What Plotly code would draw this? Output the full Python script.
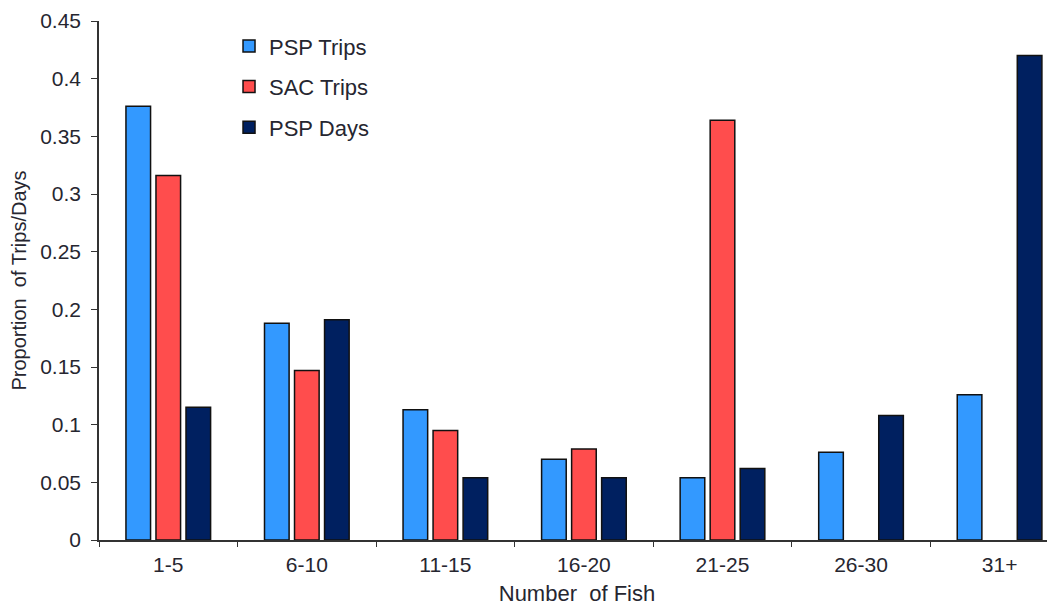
import plotly.graph_objects as go

categories = ["1-5", "6-10", "11-15", "16-20", "21-25", "26-30", "31+"]
psp_trips = [0.376, 0.188, 0.113, 0.070, 0.054, 0.076, 0.126]
sac_trips = [0.316, 0.147, 0.095, 0.079, 0.364, None, None]
psp_days = [0.115, 0.191, 0.054, 0.054, 0.062, 0.108, 0.420]
y_ticks = [0, 0.05, 0.1, 0.15, 0.2, 0.25, 0.3, 0.35, 0.4, 0.45]

FONT = "Liberation Sans, Arial, sans-serif"
TXT = "#262630"

fig = go.Figure()
series = [("PSP Trips", psp_trips, "#3399FF"),
          ("SAC Trips", sac_trips, "#FF4D4D"),
          ("PSP Days", psp_days, "#002060")]
for i, (name, vals, col) in enumerate(series):
    fig.add_trace(go.Bar(
        x=categories, y=vals, name=name, legendgroup=name,
        marker=dict(color=col, line=dict(color="#111111", width=1.5)),
    ))

fig.update_layout(
    width=1055, height=609,
    margin=dict(l=91, r=8, t=13, b=77),
    paper_bgcolor="white", plot_bgcolor="white",
    barmode="group", bargap=0.35, bargroupgap=0.18,
    font=dict(family=FONT, size=20, color=TXT),
    showlegend=True,
    legend=dict(x=0.136, y=0.992, xanchor="left", yanchor="top",
                traceorder="grouped", tracegroupgap=9,
                font=dict(family=FONT, size=22, color=TXT),
                bgcolor="rgba(0,0,0,0)"),
    xaxis=dict(
        type="category", range=[-0.5, 6.4], automargin=False,
        showline=True, linecolor="#333333", linewidth=1.5,
        ticks="outside", tickson="boundaries", ticklen=5, tickcolor="#333333",
        showgrid=False, zeroline=False, ticklabelstandoff=5,
        tickfont=dict(family=FONT, size=21, color=TXT),
        title=dict(text="Number  of Fish", font=dict(family=FONT, size=22, color=TXT), standoff=11),
    ),
    yaxis=dict(
        range=[0, 0.45], tickvals=y_ticks, automargin=False,
        ticktext=[f"{v:g}" for v in y_ticks],
        showline=True, linecolor="#333333", linewidth=1.5,
        ticks="outside", ticklen=6, tickcolor="#333333",
        showgrid=False, zeroline=False, ticklabelstandoff=6,
        tickfont=dict(family=FONT, size=21, color=TXT),
        title=dict(text="Proportion  of Trips/Days", font=dict(family=FONT, size=20, color=TXT), standoff=14),
    ),
)

fig.write_html("out.html")
